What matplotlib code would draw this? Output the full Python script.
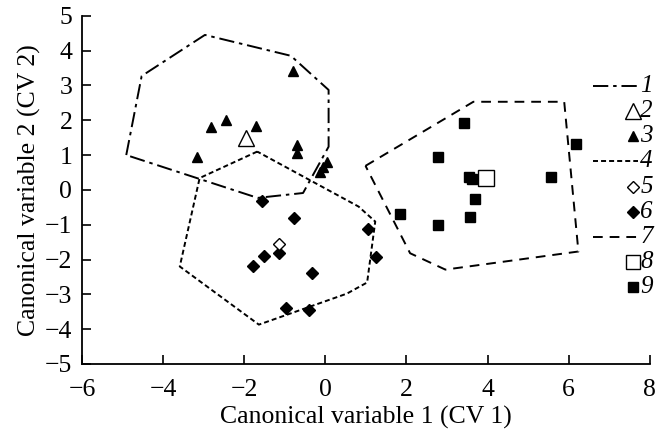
import matplotlib
matplotlib.use("Agg")
import matplotlib.pyplot as plt

plt.rcParams.update({
    "font.family": ["Liberation Serif", "DejaVu Serif"],
    "font.size": 18.5,
    "lines.scale_dashes": False,
    "axes.linewidth": 1.3,
})

# group 1: dash-dot hull around group 3
HULL1_X = [-4.91, -4.53, -2.97, -0.85, 0.08, 0.08, -0.55, -1.67, -4.91]
HULL1_Y = [1.00, 3.27, 4.45, 3.85, 2.87, 1.24, -0.09, -0.23, 1.00]
# group 2: centroid (open triangle)
CENT2_X = [-1.95]
CENT2_Y = [1.48]
# group 3: filled triangles
PTS3_X = [-0.81, -2.82, -2.46, -1.72, -0.71, -0.71, -3.16, 0.04, -0.06, -0.14]
PTS3_Y = [3.41, 1.80, 2.01, 1.82, 1.29, 1.07, 0.94, 0.81, 0.67, 0.50]
# group 4: dotted hull around group 6
HULL4_X = [-1.68, -3.10, -3.59, -1.64, 0.53, 1.03, 1.23, 0.82, -1.68]
HULL4_Y = [1.10, 0.34, -2.20, -3.87, -2.98, -2.66, -0.91, -0.48, 1.10]
# group 5: centroid (open diamond)
CENT5_X = [-1.14]
CENT5_Y = [-1.55]
# group 6: filled diamonds
PTS6_X = [-1.56, -0.78, 1.04, 1.26, -1.14, -1.52, -1.79, -0.34, -0.98, -0.40]
PTS6_Y = [-0.32, -0.82, -1.12, -1.94, -1.82, -1.91, -2.20, -2.39, -3.39, -3.46]
# group 7: dashed hull around group 9
HULL7_X = [0.99, 3.65, 5.89, 6.24, 2.96, 2.09, 0.99]
HULL7_Y = [0.69, 2.53, 2.53, -1.77, -2.29, -1.82, 0.69]
# group 8: centroid (open square)
CENT8_X = [3.96]
CENT8_Y = [0.34]
# group 9: filled squares
PTS9_X = [3.41, 6.17, 2.77, 3.55, 3.62, 5.57, 3.68, 1.85, 3.57, 2.77]
PTS9_Y = [1.93, 1.31, 0.94, 0.38, 0.32, 0.36, -0.27, -0.69, -0.78, -1.00]

LEGEND_LABELS = ["1", "2", "3", "4", "5", "6", "7", "8", "9"]

DASHDOT = (0, (11, 3.5, 2.5, 3.5))
DOTTED = (0, (3.6, 2.2))
DASHED = (0, (7, 5))

fig = plt.figure(figsize=(6.59, 4.38), dpi=100)
ax = fig.add_axes([0.1245, 0.169, 0.8615, 0.795])

ax.plot(HULL1_X, HULL1_Y, color="black", lw=1.4, ls=DASHDOT)
ax.plot(HULL4_X, HULL4_Y, color="black", lw=1.4, ls=DOTTED)
ax.plot(HULL7_X, HULL7_Y, color="black", lw=1.4, ls=DASHED)

ax.plot(PTS3_X, PTS3_Y, ls="none", marker="^", ms=7.5, color="black")
ax.plot(PTS6_X, PTS6_Y, ls="none", marker="D", ms=6.5, color="black")
ax.plot(PTS9_X, PTS9_Y, ls="none", marker="s", ms=7, color="black")
ax.plot(CENT2_X, CENT2_Y, ls="none", marker="^", ms=12, mfc="white", mec="black", mew=1.0)
ax.plot(CENT5_X, CENT5_Y, ls="none", marker="D", ms=6.5, mfc="white", mec="black", mew=1.0)
ax.plot(CENT8_X, CENT8_Y, ls="none", marker="s", ms=11, mfc="white", mec="black", mew=1.0)

ax.set_xlim(-6, 8)
ax.set_ylim(-5, 5)
ax.set_xticks(range(-6, 9, 2))
ax.set_yticks(range(-5, 6))
ax.spines["top"].set_visible(False)
ax.spines["right"].set_visible(False)
ax.tick_params(direction="in", length=6.5, width=1.2, labelsize=18.5)
ax.tick_params(axis="x", pad=11)
ax.tick_params(axis="y", pad=7)
ax.set_xlabel("Canonical variable 1 (CV 1)", fontsize=18.5, labelpad=3)
ax.set_ylabel("Canonical variable 2 (CV 2)", fontsize=18.5, labelpad=3)

# manual legend, right side inside the axes
styles = [
    dict(kind="line", ls=DASHDOT),
    dict(kind="marker", marker="^", ms=12, mfc="white"),
    dict(kind="marker", marker="^", ms=7.5, mfc="black"),
    dict(kind="line", ls=DOTTED),
    dict(kind="marker", marker="D", ms=6.5, mfc="white"),
    dict(kind="marker", marker="D", ms=6.5, mfc="black"),
    dict(kind="line", ls=DASHED),
    dict(kind="marker", marker="s", ms=10.5, mfc="white"),
    dict(kind="marker", marker="s", ms=7, mfc="black"),
]
y0, dy = 0.799, 0.0724
for i, (lab, st) in enumerate(zip(LEGEND_LABELS, styles)):
    y = y0 - i * dy
    if st["kind"] == "line":
        ax.plot([0.900, 0.979], [y, y], transform=ax.transAxes, color="black",
                lw=1.4, ls=st["ls"], clip_on=False)
    else:
        ax.plot([0.970], [y], transform=ax.transAxes, ls="none", marker=st["marker"],
                ms=st["ms"], mfc=st["mfc"], mec="black", mew=1.0, clip_on=False)
    ax.text(0.983, y, lab, transform=ax.transAxes, ha="left", va="center",
            fontsize=18, style="italic")

fig.savefig("out.png", dpi=100)
